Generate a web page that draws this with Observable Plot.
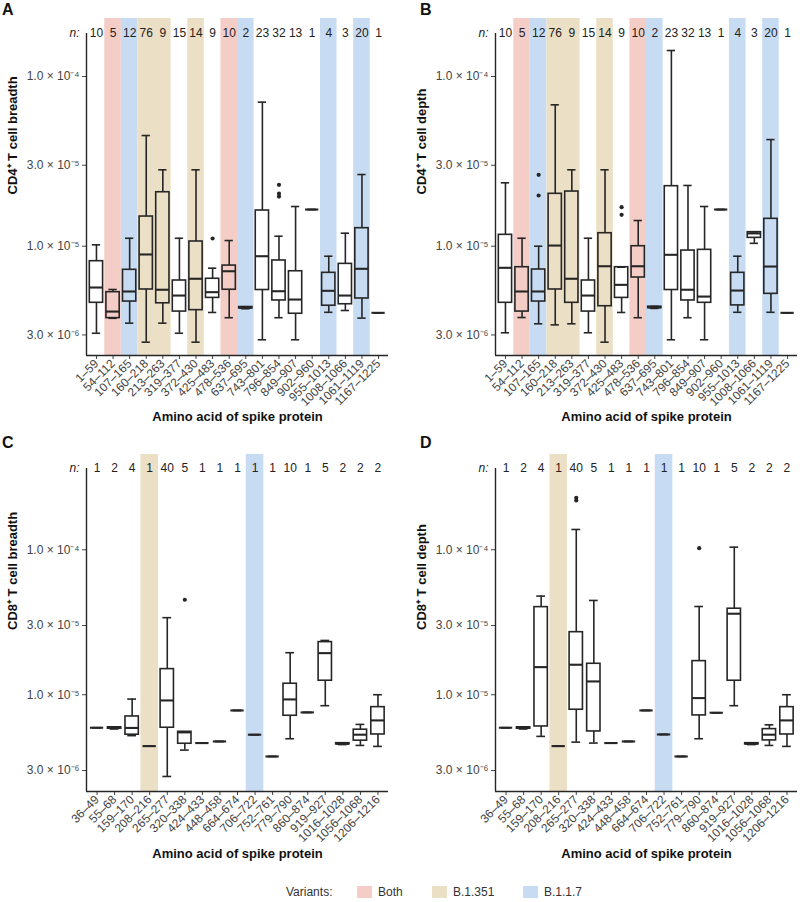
<!DOCTYPE html>
<html><head><meta charset="utf-8">
<script src="https://cdn.jsdelivr.net/npm/d3@7"></script>
<script src="https://cdn.jsdelivr.net/npm/@observablehq/plot@0.6"></script>
<style>
body{margin:0;background:#fff;font-family:"Liberation Sans",Arial,Helvetica,sans-serif;}
#wrap{position:relative;width:800px;height:902px;overflow:hidden;}
.panel{position:absolute;}
.letter{position:absolute;font-weight:bold;font-size:16px;line-height:16px;color:#111;}
.leg{position:absolute;font-size:12px;line-height:14px;color:#333;white-space:nowrap;}
.sw{position:absolute;width:15px;height:12px;}
</style></head><body>
<div id="wrap"></div>
<script>
// ---------- data ----------
const variantColor = {"Both": "#F5CDC7", "B.1.351": "#EBDFC6", "B.1.1.7": "#C7DCF2"};
const variantNames = ["Both", "B.1.351", "B.1.1.7"];

const yTicks = [3e-6, 1e-5, 3e-5, 1e-4];
const yTickLabels = ["3.0 × 10⁻⁶", "1.0 × 10⁻⁵", "3.0 × 10⁻⁵", "1.0 × 10⁻⁴"];

// CD4+ panels (A, B)
const catsAB = ["1–59","54–112","107–165","160–218","213–263","319–377","372–430","425–483","478–536","637–695","743–801","796–854","849–907","902–960","955–1013","1008–1066","1061–1119","1167–1225"];
const nAB = [10,5,12,76,9,15,14,9,10,2,23,32,13,1,4,3,20,1];
const variantAB = ["","Both","B.1.1.7","B.1.351","B.1.351","","B.1.351","","Both","B.1.1.7","","","","","B.1.1.7","","B.1.1.7",""];

const loA  = [3.07e-6,3.76e-6,3.52e-6,2.72e-6,3.52e-6,3.07e-6,2.72e-6,4.07e-6,3.79e-6,4.28e-6,2.81e-6,3.79e-6,2.81e-6,1.645e-5,4.08e-6,4.18e-6,3.77e-6,4.05e-6];
const q1A  = [4.64e-6,3.77e-6,4.72e-6,5.56e-6,4.61e-6,4.12e-6,4.20e-6,4.96e-6,5.54e-6,4.30e-6,5.52e-6,4.79e-6,4.00e-6,1.645e-5,4.46e-6,4.55e-6,4.92e-6,4.05e-6];
const medA = [5.71e-6,4.12e-6,5.41e-6,8.94e-6,5.54e-6,5.12e-6,6.43e-6,5.36e-6,7.12e-6,4.34e-6,8.73e-6,5.43e-6,4.85e-6,1.645e-5,5.46e-6,5.12e-6,7.36e-6,4.05e-6];
const q3A  = [8.16e-6,5.36e-6,7.26e-6,1.496e-5,2.08e-5,6.28e-6,1.066e-5,6.43e-6,7.69e-6,4.38e-6,1.623e-5,8.24e-6,7.12e-6,1.645e-5,6.97e-6,7.87e-6,1.277e-5,4.05e-6];
const hiA  = [1.019e-5,5.56e-6,1.114e-5,4.49e-5,2.82e-5,1.114e-5,2.82e-5,7.42e-6,1.08e-5,4.40e-6,7.06e-5,1.145e-5,1.714e-5,1.645e-5,8.73e-6,1.193e-5,2.645e-5,4.05e-6];
const outA = [[7,1.11e-5],[11,2.30e-5],[11,2.04e-5],[11,1.96e-5]];

const loB  = [3.09e-6,3.80e-6,3.49e-6,3.44e-6,3.49e-6,3.09e-6,2.72e-6,4.07e-6,3.79e-6,4.30e-6,2.81e-6,3.79e-6,2.81e-6,1.645e-5,4.08e-6,1.04e-5,4.08e-6,4.05e-6];
const q1B  = [4.64e-6,4.12e-6,4.72e-6,5.56e-6,4.64e-6,4.12e-6,4.43e-6,4.96e-6,6.54e-6,4.32e-6,5.52e-6,4.79e-6,4.64e-6,1.645e-5,4.48e-6,1.12e-5,5.24e-6,4.05e-6];
const medB = [7.46e-6,5.41e-6,5.41e-6,1.009e-5,6.43e-6,5.12e-6,7.62e-6,5.92e-6,7.62e-6,4.36e-6,8.90e-6,5.54e-6,5.05e-6,1.645e-5,5.48e-6,1.19e-5,7.59e-6,4.05e-6];
const q3B  = [1.167e-5,7.52e-6,7.29e-6,2.036e-5,2.10e-5,6.28e-6,1.193e-5,7.52e-6,1.0e-5,4.40e-6,2.258e-5,9.43e-6,9.52e-6,1.645e-5,6.97e-6,1.21e-5,1.45e-5,4.05e-6];
const hiB  = [2.364e-5,1.114e-5,1.0e-5,6.81e-5,2.82e-5,1.114e-5,2.82e-5,7.52e-6,1.417e-5,4.42e-6,1.423e-4,2.28e-5,1.714e-5,1.645e-5,8.73e-6,1.215e-5,4.25e-5,4.05e-6];
const outB = [[2,2.634e-5],[2,1.99e-5],[7,1.698e-5],[7,1.531e-5]];

// CD8+ panels (C, D)
const catsCD = ["36–49","55–68","159–170","208–216","265–277","320–338","424–433","448–458","664–674","706–722","752–761","779–790","860–874","919–927","1016–1028","1056–1068","1206–1216"];
const nCD = [1,2,4,1,40,5,1,1,1,1,1,10,1,5,2,2,2];
const variantCD = ["","","","B.1.351","","","","","","B.1.1.7","","","","","","",""];

const loC  = [5.92e-6,5.80e-6,5.22e-6,4.42e-6,2.73e-6,4.15e-6,4.64e-6,4.76e-6,7.79e-6,5.30e-6,3.75e-6,4.97e-6,7.55e-6,8.40e-6,4.53e-6,4.47e-6,4.40e-6];
const q1C  = [5.92e-6,5.83e-6,5.30e-6,4.42e-6,5.92e-6,4.59e-6,4.64e-6,4.76e-6,7.79e-6,5.30e-6,3.75e-6,7.16e-6,7.55e-6,1.249e-5,4.55e-6,4.82e-6,5.32e-6];
const medC = [5.92e-6,5.90e-6,5.90e-6,4.42e-6,9.13e-6,5.50e-6,4.64e-6,4.76e-6,7.79e-6,5.30e-6,3.75e-6,9.28e-6,7.55e-6,1.936e-5,4.59e-6,5.30e-6,6.65e-6];
const q3C  = [5.92e-6,5.96e-6,7.08e-6,4.42e-6,1.502e-5,5.55e-6,4.64e-6,4.76e-6,7.79e-6,5.30e-6,3.75e-6,1.191e-5,7.55e-6,2.306e-5,4.63e-6,5.74e-6,8.21e-6];
const hiC  = [5.92e-6,5.98e-6,9.33e-6,4.42e-6,3.40e-5,5.55e-6,4.64e-6,4.76e-6,7.79e-6,5.30e-6,3.75e-6,1.949e-5,7.55e-6,2.368e-5,4.65e-6,6.24e-6,1.0e-5];
const outC = [[5,4.52e-5]];

const loD  = [5.92e-6,5.80e-6,5.16e-6,4.42e-6,4.71e-6,4.64e-6,4.64e-6,4.76e-6,7.79e-6,5.32e-6,3.75e-6,4.97e-6,7.51e-6,8.40e-6,4.53e-6,4.47e-6,4.40e-6];
const q1D  = [5.92e-6,5.83e-6,6.04e-6,4.42e-6,7.88e-6,5.58e-6,4.64e-6,4.76e-6,7.79e-6,5.32e-6,3.75e-6,7.20e-6,7.51e-6,1.249e-5,4.55e-6,4.84e-6,5.32e-6];
const medD = [5.92e-6,5.90e-6,1.55e-5,4.42e-6,1.61e-5,1.235e-5,4.64e-6,4.76e-6,7.79e-6,5.32e-6,3.75e-6,9.48e-6,7.51e-6,3.62e-5,4.59e-6,5.30e-6,6.65e-6];
const q3D  = [5.92e-6,5.96e-6,4.02e-5,4.42e-6,2.70e-5,1.635e-5,4.64e-6,4.76e-6,7.79e-6,5.32e-6,3.75e-6,1.705e-5,7.51e-6,3.92e-5,4.63e-6,5.79e-6,8.21e-6];
const hiD  = [5.92e-6,5.98e-6,4.79e-5,4.42e-6,1.38e-4,4.47e-5,4.64e-6,4.76e-6,7.79e-6,5.32e-6,3.75e-6,4.06e-5,7.51e-6,1.042e-4,4.65e-6,6.2e-6,1.0e-5];
const outD = [[4,2.28e-4],[4,2.19e-4],[11,1.026e-4]];

// scale settings
const yDomainAB = [2.27e-6, 2.197e-4], axisTopAB = 1.792e-4;
const yDomainCD = [2.15e-6, 4.54e-4], axisTopCD = 3.64e-4;

const FONT = '"Liberation Sans", Arial, Helvetica, sans-serif';
const INK = "#262626";
const SW = 1.6;

function panel(o) {
  const k = o.cats.length;
  const rows = o.cats.map((c, i) => ({i, c, n: o.n[i], v: o.variant[i], lo: o.lo[i], q1: o.q1[i], med: o.med[i], q3: o.q3[i], hi: o.hi[i]}));
  const bg = rows.filter(d => d.v);
  const outs = o.out.map(([i, v]) => ({i, v}));
  const H = 430, FH = 337;
  const lab = new Map(yTicks.map((t, j) => [t, yTickLabels[j]]));
  return Plot.plot({
    width: 400, height: H,
    marginLeft: o.mLeft, marginRight: o.mRight, marginTop: o.mTop, marginBottom: H - o.mTop - FH,
    style: {fontFamily: FONT, fontSize: "12px", color: "#444", background: "transparent", overflow: "visible"},
    x: {type: "linear", domain: [-0.6, k - 0.4], ticks: d3.range(k), tickFormat: i => o.cats[i], tickRotate: -45, tickSize: 4, tickPadding: 2, label: null},
    y: {type: "log", domain: o.yDomain, ticks: yTicks, tickFormat: v => lab.get(v), tickSize: 4, tickPadding: 3, label: null},
    marks: [
      Plot.rect(bg, {x1: d => d.i - 0.5, x2: d => d.i + 0.5, y1: () => o.yDomain[0], y2: () => o.yDomain[1], fill: d => variantColor[d.v]}),
      Plot.ruleX([-0.6], {x: d => d, y1: () => o.yDomain[0], y2: () => o.axisTop, stroke: INK, strokeWidth: 1.4}),
      Plot.ruleY([o.yDomain[0]], {y: d => d, stroke: INK, strokeWidth: 1.4}),
      Plot.ruleX(rows, {x: "i", y1: "lo", y2: "q1", stroke: INK, strokeWidth: SW}),
      Plot.ruleX(rows, {x: "i", y1: "q3", y2: "hi", stroke: INK, strokeWidth: SW}),
      Plot.ruleY(rows, {y: "hi", x1: d => d.i - 0.25, x2: d => d.i + 0.25, stroke: INK, strokeWidth: SW}),
      Plot.ruleY(rows, {y: "lo", x1: d => d.i - 0.25, x2: d => d.i + 0.25, stroke: INK, strokeWidth: SW}),
      Plot.rect(rows, {x1: d => d.i - o.boxHalf, x2: d => d.i + o.boxHalf, y1: "q1", y2: "q3", fill: "none", stroke: INK, strokeWidth: SW}),
      Plot.ruleY(rows, {y: "med", x1: d => d.i - o.boxHalf, x2: d => d.i + o.boxHalf, stroke: INK, strokeWidth: 2.1}),
      Plot.dot(outs, {x: "i", y: "v", r: 2.1, fill: INK, stroke: "none"}),
      Plot.text(rows, {x: "i", text: d => String(d.n), frameAnchor: "top", dy: o.nDy, fill: "#222", fontSize: 12}),
      Plot.text(["n:"], {x: () => -0.6, text: d => d, frameAnchor: "top", dy: o.nDy, dx: -7, textAnchor: "end", fontStyle: "italic", fill: "#222", fontSize: 12}),
      Plot.text([o.ytitle], {text: d => d, frameAnchor: "left", rotate: -90, dx: -74, dy: o.yTitleDy, fontWeight: "bold", fontSize: 13, fill: "#111"}),
      Plot.text(["Amino acid of spike protein"], {text: d => d, frameAnchor: "bottom", dy: o.xTitleDy, fontWeight: "bold", fontSize: 13, fill: "#111"})
    ]
  });
}

const wrap = document.getElementById("wrap");
function place(el, left, top) {
  const d = document.createElement("div");
  d.className = "panel"; d.style.left = left + "px"; d.style.top = top + "px";
  d.appendChild(el); wrap.appendChild(d);
}
const commonAB = {cats: catsAB, n: nAB, variant: variantAB, yDomain: yDomainAB, axisTop: axisTopAB, mTop: 18, boxHalf: 0.4, nDy: 10, yTitleDy: 7.5, xTitleDy: 65};
const commonCD = {cats: catsCD, n: nCD, variant: variantCD, yDomain: yDomainCD, axisTop: axisTopCD, mTop: 24, boxHalf: 0.38, nDy: 9, yTitleDy: 7, xTitleDy: 66};

place(panel({...commonAB, lo: loA, q1: q1A, med: medA, q3: q3A, hi: hiA, out: outA, ytitle: "CD4⁺ T cell breadth", mLeft: 86, mRight: 12}), 0, 0);
place(panel({...commonAB, lo: loB, q1: q1B, med: medB, q3: q3B, hi: hiB, out: outB, ytitle: "CD4⁺ T cell depth", mLeft: 95, mRight: 3}), 400, 0);
place(panel({...commonCD, lo: loC, q1: q1C, med: medC, q3: q3C, hi: hiC, out: outC, ytitle: "CD8⁺ T cell breadth", mLeft: 86, mRight: 12}), 0, 430);
place(panel({...commonCD, lo: loD, q1: q1D, med: medD, q3: q3D, hi: hiD, out: outD, ytitle: "CD8⁺ T cell depth", mLeft: 95, mRight: 3}), 400, 430);

// panel letters
[["A", 2, 2], ["B", 420, 2], ["C", 2, 435], ["D", 420, 435]].forEach(([t, x, y]) => {
  const d = document.createElement("div"); d.className = "letter";
  d.style.left = x + "px"; d.style.top = y + "px"; d.textContent = t; wrap.appendChild(d);
});

// legend
function leg(text, left, top, cls) {
  const d = document.createElement("div"); d.className = cls || "leg";
  d.style.left = left + "px"; d.style.top = top + "px"; if (text) d.textContent = text; wrap.appendChild(d); return d;
}
leg("Variants:", 286, 885);
const legX = [357, 432, 523];
variantNames.forEach((v, j) => {
  const s = leg("", legX[j], 886, "sw"); s.style.background = variantColor[v];
  leg(v, legX[j] + 21, 885);
});
</script>
</body></html>
